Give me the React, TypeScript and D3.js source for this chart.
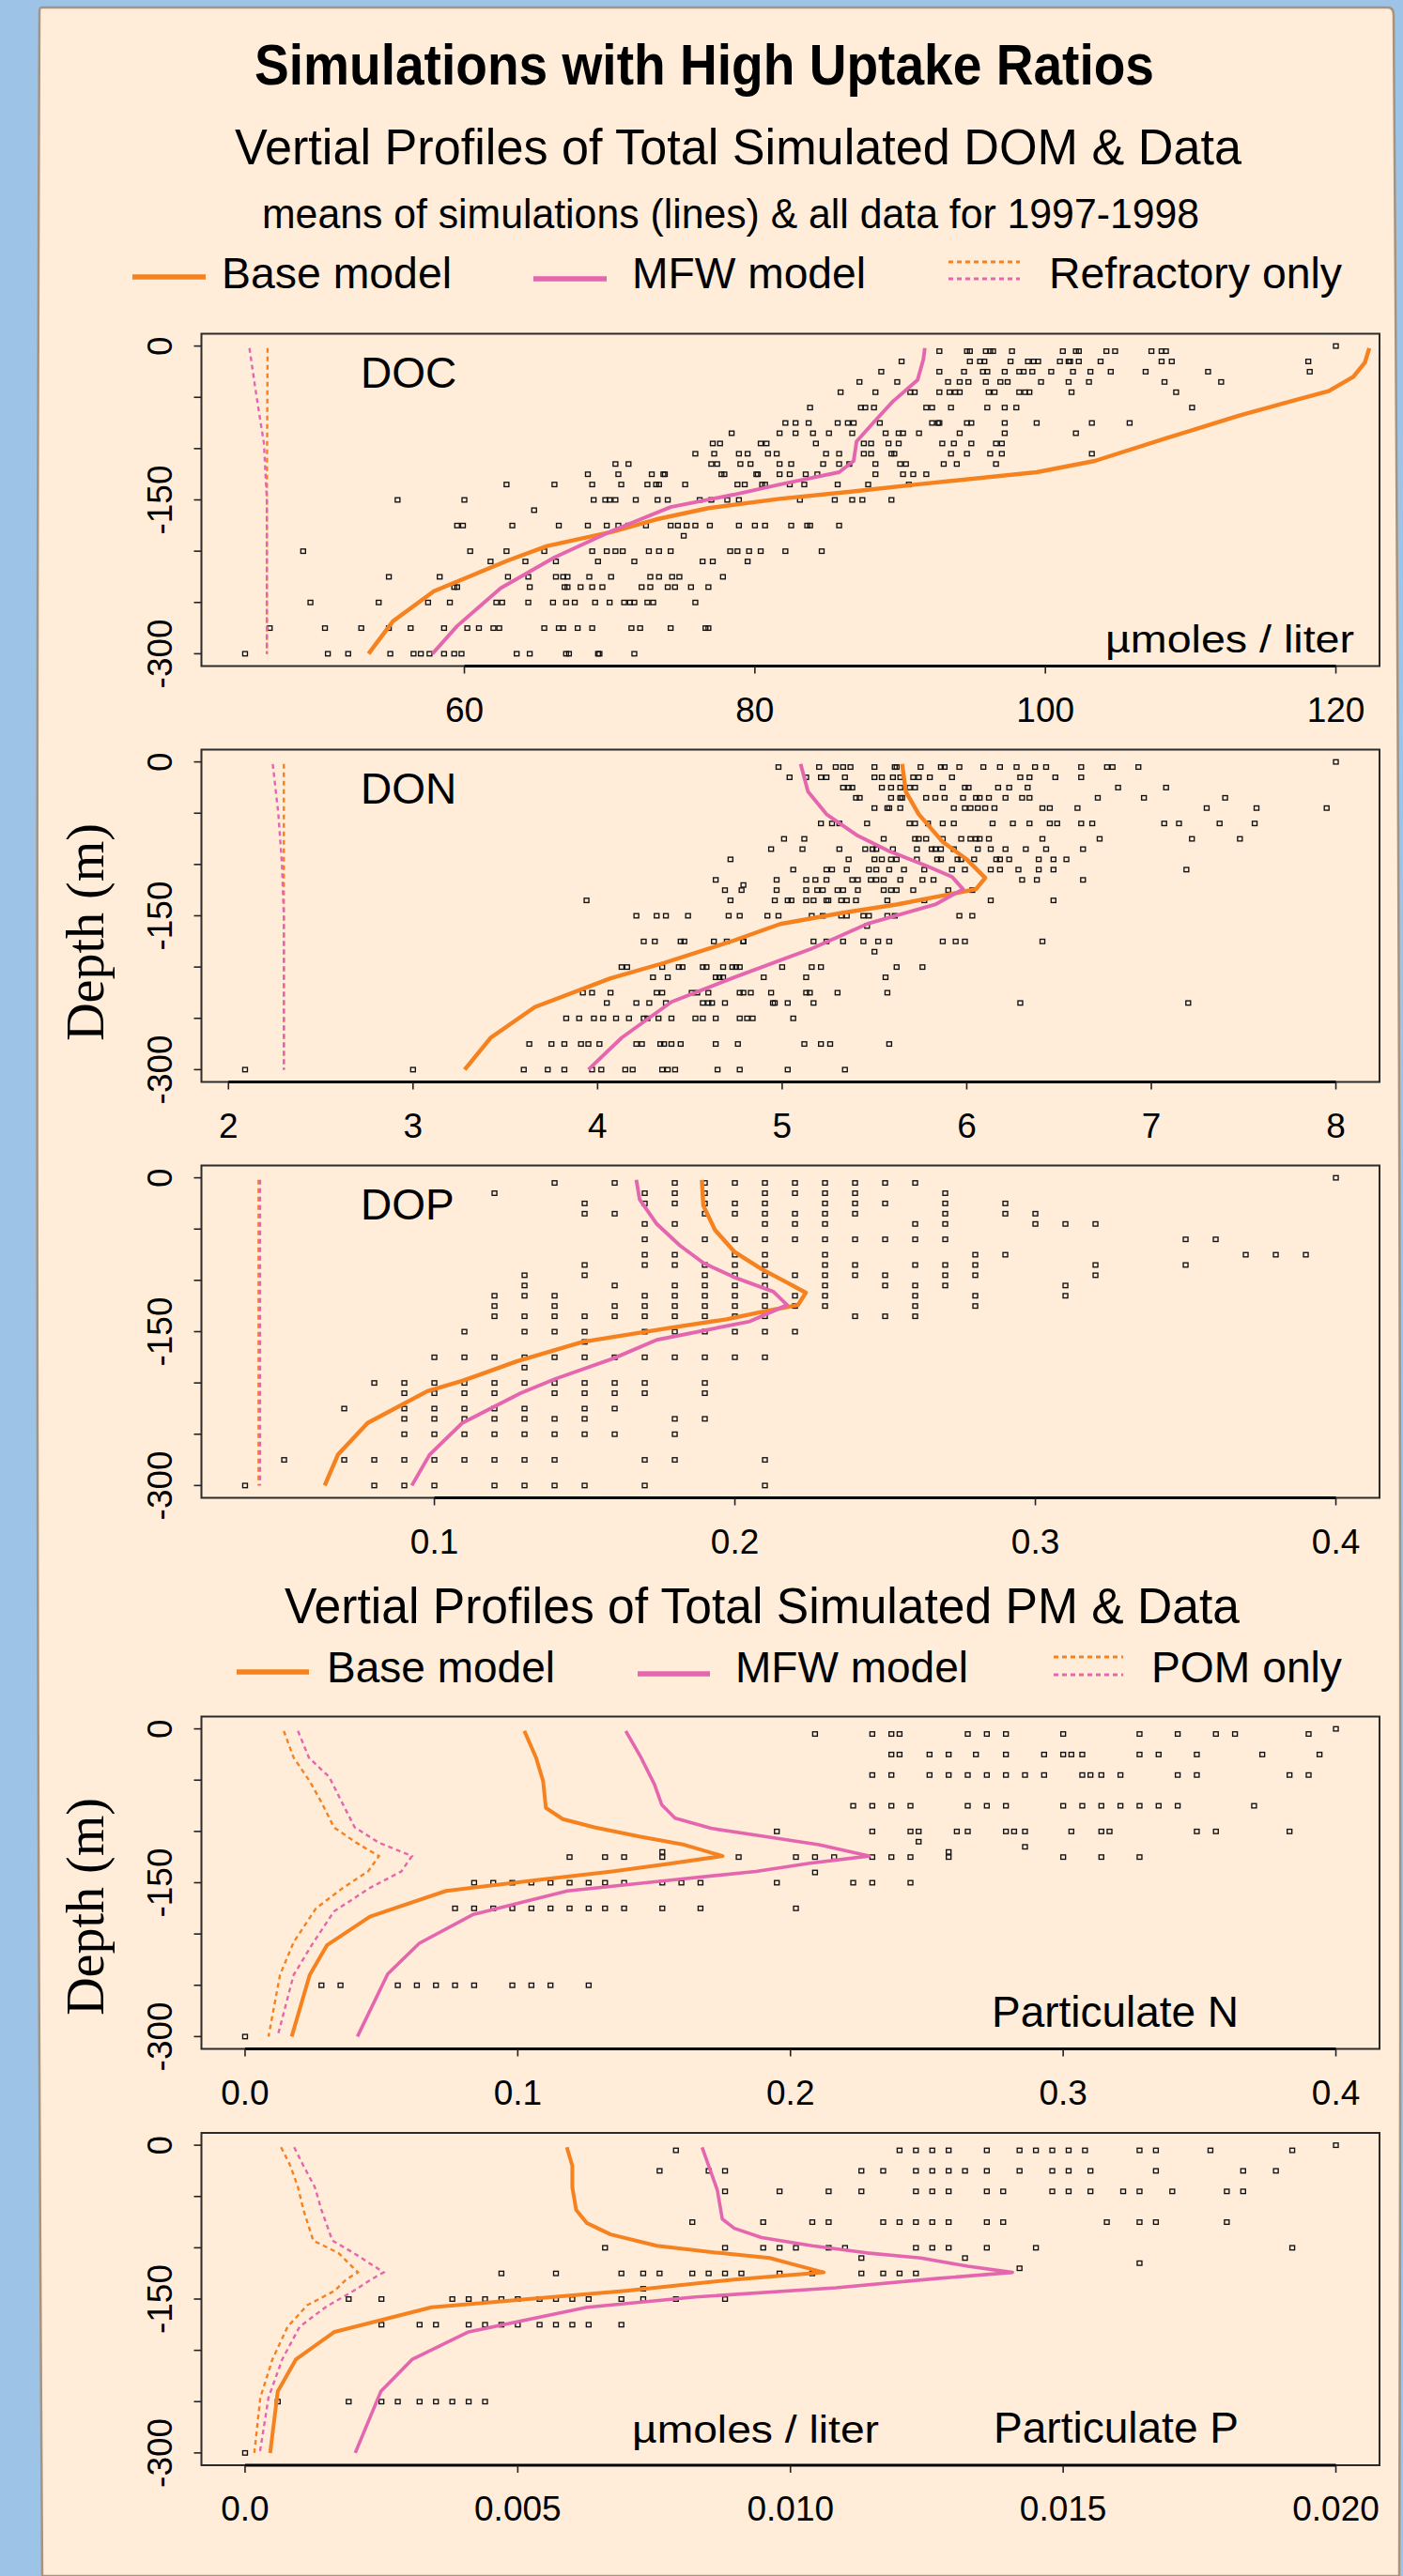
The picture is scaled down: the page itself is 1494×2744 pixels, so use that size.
import React from "react";
import * as d3 from "d3";

// ---------------- DATA ----------------
type Row = [number, number[]]; // [depth, observed values]
type Pt = [number, number]; // [value, depth]

const depthTicks = [0, -50, -100, -150, -200, -250, -300];
const depthLabels = [0, -150, -300];

const docObs: Row[] = [
  [0, [120.0]],
  [-5, [92.7, 94.6, 94.8, 95.9, 96.2, 96.4, 97.7, 101.2, 102.1, 102.3, 104.2, 104.8, 107.3, 108.0, 108.3]],
  [-15, [90.1, 94.8, 95.5, 95.8, 97.6, 98.8, 99.2, 99.5, 101.0, 101.6, 101.7, 102.3, 103.8, 108.0, 108.7, 118.1]],
  [-25, [88.7, 92.7, 94.4, 95.7, 96.0, 97.2, 98.2, 98.5, 99.1, 100.4, 101.9, 103.1, 104.5, 106.9, 111.2, 118.2]],
  [-35, [87.2, 89.8, 93.3, 94.1, 94.7, 95.9, 96.9, 97.4, 99.7, 101.6, 103.0, 108.2, 112.1]],
  [-45, [85.9, 88.3, 90.7, 91.0, 92.7, 93.4, 93.8, 94.1, 96.1, 96.5, 98.2, 98.6, 98.9, 101.8, 109.0]],
  [-60, [83.8, 87.3, 87.6, 88.2, 91.8, 92.2, 93.5, 96.0, 97.2, 98.0, 110.1]],
  [-75, [82.1, 82.8, 83.7, 85.7, 86.4, 86.8, 88.6, 92.2, 92.6, 92.7, 94.6, 94.9, 97.2, 99.4, 103.2, 105.8]],
  [-85, [78.4, 81.7, 82.8, 84.0, 85.1, 86.7, 89.0, 89.9, 90.2, 91.3, 94.1, 97.2, 102.1]],
  [-95, [77.1, 77.6, 80.4, 80.8, 84.2, 87.5, 88.0, 89.2, 89.9, 92.9, 93.7, 94.9, 96.6, 97.0]],
  [-105, [75.9, 77.2, 78.9, 79.5, 80.9, 81.5, 84.9, 85.8, 87.5, 88.0, 89.4, 89.6, 93.5, 94.6, 96.2, 97.0, 103.2]],
  [-115, [70.4, 71.3, 77.0, 77.4, 79.0, 79.7, 81.7, 82.5, 84.7, 85.8, 86.5, 88.3, 90.0, 90.4, 93.0, 93.9, 96.6]],
  [-125, [68.5, 70.6, 72.9, 73.7, 73.8, 77.7, 77.9, 80.1, 80.2, 81.7, 82.4, 83.5, 84.3, 88.3, 90.2, 90.9, 91.8]],
  [-135, [62.9, 66.2, 68.8, 70.8, 72.6, 73.2, 73.4, 75.2, 78.8, 79.3, 80.5, 80.7, 82.4, 83.4, 85.7, 87.8, 90.6]],
  [-150, [55.4, 60.0, 68.9, 69.7, 70.0, 70.4, 71.8, 73.3, 74.0, 76.2, 77.0, 78.1, 78.9, 83.1, 85.5, 86.7, 87.4, 89.4]],
  [-160, [64.8]],
  [-175, [59.5, 59.9, 63.3, 66.5, 68.5, 69.8, 70.6, 71.3, 72.5, 74.2, 74.7, 75.3, 75.9, 76.9, 78.9, 80.0, 80.7, 82.5, 83.6, 83.8, 85.8]],
  [-185, [75.1]],
  [-200, [48.9, 60.4, 62.9, 65.5, 68.8, 69.8, 70.4, 70.9, 72.7, 73.4, 74.2, 78.3, 78.8, 79.6, 80.4, 82.1, 84.6]],
  [-210, [61.8, 64.2, 66.3, 69.2, 71.7, 76.4, 77.1, 79.5]],
  [-225, [54.8, 58.3, 63.0, 64.4, 66.3, 66.8, 67.1, 68.6, 70.1, 72.8, 73.4, 74.3, 74.8, 77.8]],
  [-235, [59.3, 59.5, 64.5, 66.9, 67.1, 68.0, 68.8, 69.5, 72.2, 72.8, 74.0, 74.5, 75.6, 76.8]],
  [-250, [49.4, 54.1, 57.5, 59.0, 62.2, 62.6, 64.4, 66.1, 67.0, 67.6, 69.0, 70.0, 71.0, 71.4, 71.7, 72.6, 73.0, 75.9]],
  [-275, [46.6, 50.4, 52.9, 54.8, 56.3, 58.6, 60.2, 61.0, 62.0, 62.4, 65.5, 66.5, 66.8, 67.8, 68.8, 71.5, 72.1, 74.2, 76.6, 76.8]],
  [-300, [44.9, 50.6, 52.0, 54.9, 56.5, 57.0, 57.6, 58.6, 59.3, 59.8, 63.6, 64.5, 67.0, 67.2, 69.2, 69.3, 71.7]],
];
const docBase: Pt[] = [[122.3, -2], [122.0, -16], [121.2, -30], [119.5, -44], [117.1, -53], [113.3, -68], [108.3, -90], [103.4, -112], [99.4, -123], [91.1, -135], [86.6, -142], [81.7, -149], [76.8, -158], [73.2, -169], [70.2, -181], [65.7, -195], [63.0, -209], [57.9, -239], [55.1, -268], [53.4, -300]];
const docMfw: Pt[] = [[91.7, -2], [91.6, -13], [91.2, -33], [89.5, -54], [88.2, -74], [87.0, -93], [86.8, -112], [85.8, -123], [81.7, -135], [78.5, -145], [74.2, -157], [70.2, -180], [66.2, -206], [62.5, -236], [59.5, -273], [57.8, -300]];
const docRefBase: Pt[] = [[46.45, -2], [46.4, -150], [46.4, -300]];
const docRefMfw: Pt[] = [[45.2, -2], [45.7, -50], [46.2, -95], [46.4, -150], [46.4, -300]];

const donObs: Row[] = [
  [0, [8.0]],
  [-5, [4.98, 5.2, 5.29, 5.33, 5.37, 5.5, 5.61, 5.62, 5.75, 5.86, 5.88, 5.96, 6.09, 6.18, 6.27, 6.37, 6.43, 6.62, 6.76, 6.79, 6.93]],
  [-15, [5.04, 5.13, 5.21, 5.24, 5.34, 5.5, 5.54, 5.6, 5.64, 5.71, 5.74, 5.8, 5.92, 6.29, 6.34, 6.48, 6.62]],
  [-25, [5.33, 5.36, 5.38, 5.54, 5.59, 5.64, 5.69, 5.72, 5.87, 5.99, 6.01, 6.17, 6.23, 6.33, 6.82, 7.08]],
  [-35, [5.4, 5.42, 5.59, 5.64, 5.65, 5.78, 5.83, 5.88, 5.98, 6.05, 6.07, 6.12, 6.21, 6.3, 6.34, 6.71, 6.96, 7.4]],
  [-45, [5.5, 5.57, 5.58, 5.64, 5.93, 5.99, 6.02, 6.06, 6.1, 6.15, 6.41, 6.45, 6.6, 7.3, 7.57, 7.95]],
  [-60, [5.21, 5.27, 5.31, 5.46, 5.69, 5.72, 5.79, 5.87, 5.93, 6.14, 6.25, 6.34, 6.45, 6.49, 6.62, 6.68, 7.07, 7.15, 7.37, 7.56]],
  [-75, [5.01, 5.12, 5.55, 5.72, 5.74, 5.78, 5.87, 5.97, 6.02, 6.05, 6.07, 6.12, 6.41, 6.72, 7.22, 7.48]],
  [-85, [4.94, 5.11, 5.31, 5.45, 5.49, 5.51, 5.6, 5.73, 5.81, 5.83, 5.86, 5.93, 6.06, 6.13, 6.21, 6.32, 6.43, 6.63]],
  [-95, [4.72, 5.36, 5.5, 5.54, 5.59, 5.62, 5.73, 5.84, 5.86, 5.95, 5.97, 6.04, 6.16, 6.18, 6.23, 6.39, 6.47, 6.54]],
  [-105, [5.06, 5.24, 5.27, 5.35, 5.47, 5.51, 5.58, 5.66, 5.77, 5.92, 5.99, 6.13, 6.18, 6.28, 6.39, 6.47, 7.19]],
  [-115, [4.64, 4.97, 5.13, 5.18, 5.24, 5.38, 5.41, 5.48, 5.51, 5.55, 5.64, 5.76, 5.82, 6.3, 6.38, 6.63]],
  [-120, [4.79]],
  [-125, [4.69, 4.78, 4.97, 5.13, 5.19, 5.22, 5.3, 5.33, 5.41, 5.55, 5.59, 5.62, 5.71, 5.9, 6.03]],
  [-135, [3.94, 4.72, 4.96, 5.03, 5.05, 5.13, 5.17, 5.24, 5.25, 5.32, 5.35, 5.4, 5.57, 5.77, 6.13, 6.47]],
  [-150, [4.21, 4.32, 4.37, 4.49, 4.71, 4.77, 4.92, 4.98, 5.16, 5.22, 5.32, 5.35, 5.44, 5.47, 5.57, 5.61, 5.96, 6.03]],
  [-160, [5.46]],
  [-175, [4.25, 4.31, 4.45, 4.47, 4.63, 4.7, 4.79, 4.79, 5.17, 5.24, 5.33, 5.44, 5.52, 5.58, 5.87, 5.94, 5.99, 6.41]],
  [-185, [5.5]],
  [-200, [4.13, 4.16, 4.35, 4.44, 4.46, 4.57, 4.59, 4.68, 4.73, 4.75, 4.77, 5.0, 5.16, 5.21, 5.62, 5.76]],
  [-210, [4.3, 4.38, 4.64, 4.66, 4.68, 4.9, 5.13, 5.56]],
  [-225, [3.92, 3.97, 4.07, 4.32, 4.35, 4.51, 4.54, 4.6, 4.77, 4.79, 4.83, 4.94, 5.13, 5.15, 5.3, 5.57]],
  [-235, [4.05, 4.21, 4.28, 4.37, 4.57, 4.6, 4.62, 4.69, 4.95, 4.96, 5.03, 5.17, 6.29, 7.2]],
  [-250, [3.83, 3.9, 3.98, 4.03, 4.1, 4.17, 4.25, 4.27, 4.33, 4.4, 4.53, 4.57, 4.64, 4.77, 4.81, 4.84, 5.06]],
  [-275, [3.63, 3.75, 3.82, 3.91, 3.95, 4.01, 4.21, 4.24, 4.34, 4.36, 4.4, 4.45, 4.64, 4.76, 5.12, 5.21, 5.26, 5.58]],
  [-300, [2.09, 3.0, 3.6, 3.73, 3.82, 3.97, 4.02, 4.15, 4.19, 4.35, 4.38, 4.42, 4.65, 4.77, 5.03, 5.34]],
];
const donBase: Pt[] = [[5.65, -2], [5.67, -29], [5.74, -51], [5.87, -78], [6.0, -95], [6.1, -113], [6.05, -124], [5.88, -130], [5.62, -139], [5.33, -147], [4.99, -158], [4.74, -174], [4.36, -196], [4.07, -211], [3.66, -239], [3.42, -269], [3.28, -300]];
const donMfw: Pt[] = [[5.1, -2], [5.14, -29], [5.24, -51], [5.41, -72], [5.58, -87], [5.79, -102], [5.92, -112], [5.98, -124], [5.83, -139], [5.46, -158], [5.16, -182], [4.74, -210], [4.4, -234], [4.13, -269], [3.95, -300]];
const donRefBase: Pt[] = [[2.3, -2], [2.3, -150], [2.3, -300]];
const donRefMfw: Pt[] = [[2.24, -2], [2.27, -50], [2.29, -100], [2.3, -150], [2.3, -300]];

const dopObs: Row[] = [
  [0, [0.4]],
  [-5, [0.14, 0.16, 0.18, 0.19, 0.2, 0.21, 0.22, 0.23, 0.24, 0.25, 0.26]],
  [-15, [0.12, 0.17, 0.18, 0.19, 0.21, 0.22, 0.23, 0.24, 0.27]],
  [-25, [0.15, 0.17, 0.18, 0.19, 0.2, 0.21, 0.23, 0.24, 0.25, 0.27, 0.29]],
  [-35, [0.15, 0.16, 0.19, 0.2, 0.21, 0.22, 0.23, 0.24, 0.27, 0.29, 0.3]],
  [-45, [0.17, 0.18, 0.21, 0.22, 0.23, 0.26, 0.27, 0.3, 0.31, 0.32]],
  [-60, [0.17, 0.19, 0.2, 0.21, 0.22, 0.23, 0.24, 0.25, 0.26, 0.27, 0.35, 0.36]],
  [-75, [0.17, 0.18, 0.2, 0.21, 0.23, 0.28, 0.29, 0.37, 0.38, 0.39]],
  [-85, [0.15, 0.17, 0.18, 0.19, 0.2, 0.21, 0.23, 0.24, 0.26, 0.27, 0.28, 0.32, 0.35]],
  [-95, [0.13, 0.15, 0.19, 0.2, 0.21, 0.22, 0.23, 0.24, 0.25, 0.27, 0.28, 0.32]],
  [-105, [0.13, 0.16, 0.18, 0.19, 0.2, 0.21, 0.23, 0.25, 0.26, 0.27, 0.31]],
  [-115, [0.12, 0.13, 0.14, 0.17, 0.18, 0.19, 0.2, 0.21, 0.22, 0.23, 0.26, 0.28, 0.31]],
  [-125, [0.12, 0.14, 0.16, 0.17, 0.18, 0.19, 0.2, 0.21, 0.22, 0.23, 0.26, 0.28]],
  [-135, [0.12, 0.13, 0.14, 0.15, 0.16, 0.17, 0.18, 0.19, 0.2, 0.21, 0.24, 0.25, 0.26]],
  [-150, [0.11, 0.13, 0.14, 0.15, 0.17, 0.18, 0.19, 0.2, 0.21, 0.22]],
  [-160, [0.15]],
  [-175, [0.1, 0.11, 0.12, 0.13, 0.14, 0.15, 0.16, 0.17, 0.18, 0.19, 0.2, 0.21]],
  [-185, [0.13]],
  [-200, [0.08, 0.09, 0.1, 0.11, 0.12, 0.13, 0.14, 0.15, 0.16, 0.17, 0.19]],
  [-210, [0.09, 0.1, 0.11, 0.12, 0.14, 0.15, 0.16, 0.17, 0.19]],
  [-225, [0.07, 0.09, 0.1, 0.11, 0.12, 0.13, 0.15, 0.16]],
  [-235, [0.09, 0.1, 0.11, 0.12, 0.13, 0.14, 0.15, 0.18, 0.19]],
  [-250, [0.09, 0.1, 0.11, 0.12, 0.13, 0.14, 0.15, 0.16, 0.18]],
  [-275, [0.05, 0.07, 0.08, 0.09, 0.1, 0.11, 0.12, 0.13, 0.14, 0.17, 0.18, 0.21]],
  [-300, [0.037, 0.08, 0.09, 0.1, 0.12, 0.13, 0.14, 0.15, 0.17, 0.21]],
];
const dopBase: Pt[] = [[0.189, -2], [0.1895, -27], [0.1934, -51], [0.1998, -72], [0.2089, -89], [0.2179, -103], [0.2236, -112], [0.221, -124], [0.2102, -130], [0.1972, -138], [0.1791, -146], [0.1494, -160], [0.1274, -179], [0.1093, -198], [0.0977, -208], [0.0778, -239], [0.0679, -270], [0.0635, -300]];
const dopMfw: Pt[] = [[0.1672, -2], [0.1683, -21], [0.174, -45], [0.1817, -66], [0.1895, -83], [0.1998, -97], [0.2128, -111], [0.2174, -124], [0.205, -140], [0.174, -158], [0.1597, -176], [0.1403, -196], [0.1287, -210], [0.1093, -239], [0.0984, -270], [0.0925, -300]];
const dopRefBase: Pt[] = [[0.0415, -2], [0.0415, -150], [0.0415, -300]];
const dopRefMfw: Pt[] = [[0.042, -2], [0.042, -150], [0.042, -300]];

const pnObs: Row[] = [
  [0, [0.4]],
  [-5, [0.209, 0.23, 0.237, 0.24, 0.265, 0.272, 0.279, 0.3, 0.328, 0.342, 0.356, 0.363, 0.39]],
  [-25, [0.237, 0.24, 0.251, 0.258, 0.268, 0.279, 0.293, 0.3, 0.303, 0.307, 0.328, 0.335, 0.349, 0.373, 0.394]],
  [-45, [0.23, 0.237, 0.251, 0.258, 0.265, 0.272, 0.279, 0.286, 0.293, 0.307, 0.31, 0.314, 0.321, 0.342, 0.349, 0.383, 0.39]],
  [-75, [0.223, 0.23, 0.237, 0.244, 0.265, 0.272, 0.279, 0.3, 0.307, 0.314, 0.321, 0.328, 0.335, 0.342, 0.37]],
  [-100, [0.195, 0.23, 0.244, 0.247, 0.261, 0.265, 0.279, 0.282, 0.286, 0.303, 0.314, 0.317, 0.349, 0.356, 0.383]],
  [-110, [0.247]],
  [-115, [0.286]],
  [-120, [0.153, 0.258]],
  [-125, [0.119, 0.132, 0.139, 0.153, 0.181, 0.202, 0.209, 0.216, 0.23, 0.237, 0.244, 0.258, 0.3, 0.314, 0.328]],
  [-140, [0.209]],
  [-150, [0.084, 0.091, 0.098, 0.105, 0.112, 0.119, 0.126, 0.132, 0.139, 0.153, 0.16, 0.167, 0.195, 0.223, 0.23, 0.244]],
  [-175, [0.077, 0.084, 0.091, 0.098, 0.105, 0.112, 0.119, 0.126, 0.132, 0.139, 0.153, 0.167, 0.202]],
  [-250, [0.028, 0.035, 0.056, 0.063, 0.07, 0.077, 0.084, 0.098, 0.105, 0.112, 0.126]],
  [-300, [0.0]],
];
const pnBase: Pt[] = [[0.1024, -2], [0.1067, -28], [0.1093, -51], [0.1103, -77], [0.1165, -88], [0.1281, -96], [0.1445, -105], [0.161, -113], [0.1751, -124], [0.1544, -132], [0.1347, -139], [0.1083, -147], [0.0737, -158], [0.0458, -183], [0.03, -211], [0.0237, -240], [0.0171, -300]];
const pnMfw: Pt[] = [[0.1396, -2], [0.1452, -28], [0.1501, -54], [0.1528, -74], [0.1577, -87], [0.1709, -97], [0.1906, -105], [0.2104, -113], [0.2288, -124], [0.2071, -131], [0.1873, -139], [0.1577, -147], [0.1182, -158], [0.0836, -181], [0.0639, -209], [0.0523, -239], [0.0412, -300]];
const pnPomBase: Pt[] = [[0.0142, -2], [0.0178, -28], [0.0237, -51], [0.0277, -70], [0.0326, -96], [0.0408, -111], [0.0491, -124], [0.0451, -139], [0.0359, -155], [0.026, -175], [0.0178, -208], [0.0128, -240], [0.0086, -300]];
const pnPomMfw: Pt[] = [[0.0194, -2], [0.0234, -28], [0.0309, -47], [0.0352, -70], [0.0402, -96], [0.0491, -111], [0.0612, -124], [0.0573, -139], [0.0458, -155], [0.0326, -178], [0.0244, -211], [0.0178, -240], [0.0119, -300]];

const ppObs: Row[] = [
  [0, [0.02]],
  [-5, [0.0079, 0.012, 0.0123, 0.0126, 0.0129, 0.0136, 0.0142, 0.0145, 0.0148, 0.0151, 0.0154, 0.0164, 0.0167, 0.0177, 0.0192]],
  [-25, [0.0076, 0.0085, 0.0088, 0.0113, 0.0117, 0.0123, 0.0126, 0.0129, 0.0132, 0.0136, 0.0142, 0.0148, 0.0151, 0.0155, 0.0167, 0.0183, 0.0189]],
  [-45, [0.0088, 0.0098, 0.0107, 0.0113, 0.0123, 0.0126, 0.0129, 0.0136, 0.0139, 0.0148, 0.0151, 0.0155, 0.0161, 0.0164, 0.017, 0.018, 0.0183]],
  [-75, [0.0082, 0.0095, 0.0104, 0.0107, 0.0117, 0.012, 0.0123, 0.0126, 0.0129, 0.0136, 0.0139, 0.0158, 0.0164, 0.0167, 0.018]],
  [-100, [0.0066, 0.0088, 0.0095, 0.0098, 0.0101, 0.0107, 0.011, 0.0123, 0.0126, 0.0129, 0.0136, 0.0145, 0.0192]],
  [-110, [0.0113, 0.0132]],
  [-115, [0.0164]],
  [-120, [0.0142]],
  [-125, [0.0047, 0.0057, 0.0069, 0.0073, 0.0076, 0.0082, 0.0085, 0.0088, 0.0091, 0.0098, 0.0104, 0.0113, 0.0117, 0.012, 0.0123]],
  [-140, [0.0073]],
  [-150, [0.0019, 0.0025, 0.0038, 0.0041, 0.0044, 0.0047, 0.005, 0.0054, 0.0057, 0.006, 0.0063, 0.0069, 0.0073, 0.0079, 0.0088]],
  [-175, [0.0025, 0.0032, 0.0035, 0.0041, 0.0044, 0.0047, 0.005, 0.0054, 0.0057, 0.006, 0.0063, 0.0069]],
  [-250, [0.0006, 0.0019, 0.0025, 0.0028, 0.0032, 0.0035, 0.0038, 0.0041, 0.0044]],
  [-300, [0.0]],
];
const ppBase: Pt[] = [[0.0059, -2], [0.006, -20], [0.006, -41], [0.00607, -63], [0.00627, -76], [0.0067, -87], [0.00755, -98], [0.00869, -105], [0.00962, -110], [0.01004, -116], [0.01061, -124], [0.00897, -131], [0.00698, -142], [0.00499, -151], [0.00342, -158], [0.00164, -182], [0.00093, -209], [0.0006, -240], [0.00046, -300]];
const ppMfw: Pt[] = [[0.00838, -2], [0.00852, -23], [0.00866, -44], [0.00875, -72], [0.00897, -81], [0.00947, -90], [0.0104, -98], [0.0114, -105], [0.01239, -110], [0.01325, -118], [0.01407, -124], [0.01268, -130], [0.01083, -139], [0.00826, -148], [0.00627, -158], [0.0041, -182], [0.00306, -209], [0.00249, -240], [0.00202, -300]];
const ppPomBase: Pt[] = [[0.00066, -2], [0.00083, -20], [0.00097, -41], [0.00107, -63], [0.00125, -93], [0.00171, -105], [0.00207, -124], [0.00185, -131], [0.00164, -142], [0.00114, -156], [0.00078, -177], [0.0005, -209], [0.00028, -246], [0.00017, -300]];
const ppPomMfw: Pt[] = [[0.0009, -2], [0.00107, -20], [0.00128, -41], [0.0014, -63], [0.0016, -93], [0.00199, -105], [0.00254, -124], [0.00231, -131], [0.00199, -142], [0.0015, -157], [0.001, -177], [0.00068, -209], [0.00043, -246], [0.00027, -300]];

const docTicks = [60, 80, 100, 120];
const docTickLabels = ["60", "80", "100", "120"];
const donTicks = [2, 3, 4, 5, 6, 7, 8];
const donTickLabels = ["2", "3", "4", "5", "6", "7", "8"];
const dopTicks = [0.1, 0.2, 0.3, 0.4];
const dopTickLabels = ["0.1", "0.2", "0.3", "0.4"];
const pnTicks = [0, 0.1, 0.2, 0.3, 0.4];
const pnTickLabels = ["0.0", "0.1", "0.2", "0.3", "0.4"];
const ppTicks = [0, 0.005, 0.01, 0.015, 0.02];
const ppTickLabels = ["0.0", "0.005", "0.010", "0.015", "0.020"];

// ---------------- STYLE / LAYOUT ----------------
const W = 1494;
const H = 2744;
const ORANGE = "#F5821F";
const PINK = "#E466AE";
const BLUE = "#9DC3E6";
const PEACH = "#FFEDDA";
const SANS = '"Liberation Sans", Arial, Helvetica, sans-serif';
const SERIF = '"Liberation Serif", "Times New Roman", Times, serif';
const BOX_L = 214.5;
const BOX_R = 1469;
const BOX_H = 354;

type Label = { text: string; x: number; y: number; size: number; len?: number };
type PanelCfg = {
  top: number;
  obs: Row[];
  solid: [Pt[], string, number][];
  dashed: [Pt[], string][];
  ticks: number[];
  tickLabels: string[];
  labels: Label[];
};

const panels: PanelCfg[] = [
  {
    top: 355.5, obs: docObs, ticks: docTicks, tickLabels: docTickLabels,
    solid: [[docBase, ORANGE, 4.4], [docMfw, PINK, 3.9]],
    dashed: [[docRefBase, ORANGE], [docRefMfw, PINK]],
    labels: [{ text: "DOC", x: 384, y: 413, size: 46 }, { text: "\u00b5moles / liter", x: 1177, y: 695, size: 40, len: 265 }],
  },
  {
    top: 798.5, obs: donObs, ticks: donTicks, tickLabels: donTickLabels,
    solid: [[donBase, ORANGE, 4.4], [donMfw, PINK, 3.9]],
    dashed: [[donRefBase, ORANGE], [donRefMfw, PINK]],
    labels: [{ text: "DON", x: 384, y: 856, size: 46 }],
  },
  {
    top: 1241.5, obs: dopObs, ticks: dopTicks, tickLabels: dopTickLabels,
    solid: [[dopBase, ORANGE, 4.4], [dopMfw, PINK, 3.9]],
    dashed: [[dopRefBase, ORANGE], [dopRefMfw, PINK]],
    labels: [{ text: "DOP", x: 384, y: 1299, size: 46 }],
  },
  {
    top: 1828.5, obs: pnObs, ticks: pnTicks, tickLabels: pnTickLabels,
    solid: [[pnBase, ORANGE, 4.0], [pnMfw, PINK, 3.6]],
    dashed: [[pnPomBase, ORANGE], [pnPomMfw, PINK]],
    labels: [{ text: "Particulate N", x: 1056, y: 2158.5, size: 46, len: 263 }],
  },
  {
    top: 2272, obs: ppObs, ticks: ppTicks, tickLabels: ppTickLabels,
    solid: [[ppBase, ORANGE, 4.0], [ppMfw, PINK, 3.6]],
    dashed: [[ppPomBase, ORANGE], [ppPomMfw, PINK]],
    labels: [
      { text: "\u00b5moles / liter", x: 673, y: 2602, size: 40, len: 263 },
      { text: "Particulate P", x: 1058, y: 2602, size: 46, len: 261 },
    ],
  },
];

function Txt({ t, weight, family }: { t: Label; weight?: string; family?: string }) {
  return (
    <text
      x={t.x}
      y={t.y}
      fontSize={t.size}
      fontFamily={family || SANS}
      fontWeight={weight || "normal"}
      fill="#000"
      {...(t.len ? { textLength: t.len, lengthAdjust: "spacingAndGlyphs" } : {})}
    >
      {t.text}
    </text>
  );
}

function Panel({ cfg }: { cfg: PanelCfg }) {
  const allVals = cfg.obs.flatMap((r) => r[1]);
  const [mn, mx] = d3.extent(allVals) as [number, number];
  const pad = (mx - mn) * 0.04;
  const x = d3.scaleLinear().domain([mn - pad, mx + pad]).range([BOX_L, BOX_R]);
  const y = d3.scaleLinear().domain([12, -312]).range([cfg.top, cfg.top + BOX_H]);
  const line = d3.line<Pt>().x((d) => x(d[0])).y((d) => y(d[1]));
  const bottom = cfg.top + BOX_H;
  const pts = cfg.obs.flatMap(([dep, vals]) => vals.map((v) => [v, dep] as Pt));
  return (
    <g>
      <rect x={BOX_L} y={cfg.top} width={BOX_R - BOX_L} height={BOX_H} fill="none" stroke="#2a2a2a" strokeWidth={2} />
      {depthTicks.map((d) => (
        <line key={"yt" + d} x1={BOX_L - 8} x2={BOX_L} y1={y(d)} y2={y(d)} stroke="#222" strokeWidth={1.6} />
      ))}
      {depthLabels.map((d) => (
        <text key={"yl" + d} x={183} y={y(d)} transform={`rotate(-90, 183, ${y(d)})`} textAnchor="middle" fontSize={37} fontFamily={SANS} fill="#000">
          {String(d)}
        </text>
      ))}
      <line x1={x(cfg.ticks[0])} x2={x(cfg.ticks[cfg.ticks.length - 1])} y1={bottom} y2={bottom} stroke="#000" strokeWidth={3} />
      {cfg.ticks.map((t, i) => (
        <g key={"xt" + i}>
          <line x1={x(t)} x2={x(t)} y1={bottom} y2={bottom + 8} stroke="#222" strokeWidth={1.6} />
          <text x={x(t)} y={bottom + 59} textAnchor="middle" fontSize={37} fontFamily={SANS} fill="#000">
            {cfg.tickLabels[i]}
          </text>
        </g>
      ))}
      {pts.map((p, i) => (
        <rect key={"p" + i} x={x(p[0]) - 2.5} y={y(p[1]) - 2.3} width={5} height={4.6} fill="none" stroke="#111" strokeWidth={1.35} />
      ))}
      {cfg.dashed.map(([data, col], i) => (
        <path key={"d" + i} d={line(data) || ""} fill="none" stroke={col} strokeWidth={2.4} strokeDasharray="5,4" />
      ))}
      {cfg.solid.map(([data, col, w], i) => (
        <path key={"s" + i} d={line(data) || ""} fill="none" stroke={col} strokeWidth={w} strokeLinejoin="round" />
      ))}
      {cfg.labels.map((l, i) => (
        <Txt key={"l" + i} t={l} />
      ))}
    </g>
  );
}

function Legend({ y, baseX, mfwX, dashX, dashY1, dashY2, textY, items }: {
  y: number; baseX: [number, number]; mfwX: [number, number]; dashX: [number, number];
  dashY1: number; dashY2: number; textY: number; items: Label[];
}) {
  return (
    <g>
      <line x1={baseX[0]} x2={baseX[1]} y1={y} y2={y} stroke={ORANGE} strokeWidth={5.5} />
      <line x1={mfwX[0]} x2={mfwX[1]} y1={y + 2} y2={y + 2} stroke={PINK} strokeWidth={5.5} />
      <line x1={dashX[0]} x2={dashX[1]} y1={dashY1} y2={dashY1} stroke={ORANGE} strokeWidth={3} strokeDasharray="5,4" />
      <line x1={dashX[0]} x2={dashX[1]} y1={dashY2} y2={dashY2} stroke={PINK} strokeWidth={3} strokeDasharray="5,4" />
      {items.map((t, i) => (
        <Txt key={i} t={{ ...t, y: textY }} />
      ))}
    </g>
  );
}

export default function App() {
  const frame = `M 44 8 L 1478 8 Q 1484 8 1484 16 Q 1494 1400 1490 2744 L 45 2744 Q 36 1400 42 14 Q 42 8 44 8 Z`;
  return (
    <svg width={W} height={H} viewBox={`0 0 ${W} ${H}`} style={{ position: "absolute", left: 0, top: 0, display: "block" }}>
      <rect x={0} y={0} width={W} height={H} fill={BLUE} />
      <path d={frame} fill={PEACH} stroke="#A8937F" strokeWidth={2.5} />

      <Txt t={{ text: "Simulations with High Uptake Ratios", x: 271, y: 90, size: 62, len: 958 }} weight="bold" />
      <Txt t={{ text: "Vertial Profiles of Total Simulated DOM & Data", x: 250, y: 175, size: 53, len: 1072 }} />
      <Txt t={{ text: "means of simulations (lines) & all data for 1997-1998", x: 279, y: 243, size: 44, len: 998 }} />
      <Legend
        y={295} baseX={[141, 219]} mfwX={[568, 646]} dashX={[1010, 1086]} dashY1={279} dashY2={297} textY={307}
        items={[
          { text: "Base model", x: 236, y: 0, size: 46, len: 245 },
          { text: "MFW model", x: 673, y: 0, size: 46, len: 249 },
          { text: "Refractory only", x: 1117, y: 0, size: 46, len: 312 },
        ]}
      />

      <Txt t={{ text: "Vertial Profiles of Total Simulated PM & Data", x: 303, y: 1728.5, size: 53, len: 1017 }} />
      <Legend
        y={1781} baseX={[252, 329]} mfwX={[679, 756]} dashX={[1122, 1196]} dashY1={1765} dashY2={1784} textY={1792}
        items={[
          { text: "Base model", x: 348, y: 0, size: 46, len: 243 },
          { text: "MFW model", x: 783, y: 0, size: 46, len: 248 },
          { text: "POM only", x: 1226, y: 0, size: 46, len: 203 },
        ]}
      />

      {panels.map((p, i) => (
        <Panel key={i} cfg={p} />
      ))}

      {[993, 2031].map((cy) => (
        <text key={cy} x={110} y={cy} transform={`rotate(-90, 110, ${cy})`} textAnchor="middle" fontSize={56} fontFamily={SERIF} fill="#000">
          Depth (m)
        </text>
      ))}
    </svg>
  );
}
